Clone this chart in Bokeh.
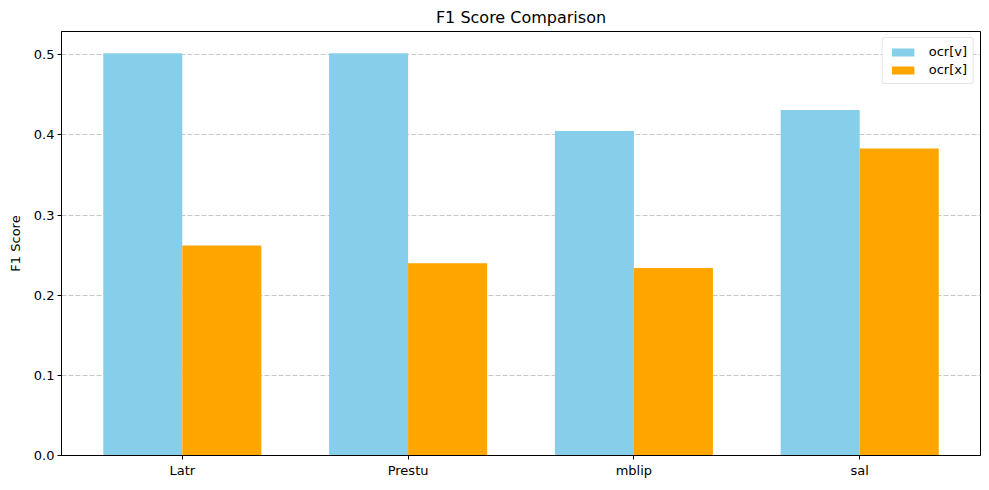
from bokeh.plotting import figure
from bokeh.models import ColumnDataSource, FixedTicker, Range1d, Legend, LegendItem, CustomJSTickFormatter
from bokeh.embed import file_html
from bokeh.resources import INLINE

categories = ["Latr", "Prestu", "mblip", "sal"]
ocr_v = [0.502, 0.502, 0.405, 0.431]
ocr_x = [0.262, 0.240, 0.234, 0.383]
series_names = ["ocr[v]", "ocr[x]"]
yticks = [0.0, 0.1, 0.2, 0.3, 0.4, 0.5]

width = 0.35
idx = list(range(len(categories)))

p = figure(frame_width=919, frame_height=424, output_backend="svg", toolbar_location=None,
           title="F1 Score Comparison",
           x_range=Range1d(-0.535, len(categories) - 1 + 0.535),
           y_range=Range1d(0, 0.529))
p.min_border_left = 61
p.min_border_right = 1
p.min_border_top = 24
p.min_border_bottom = 24

src_v = ColumnDataSource(dict(x=[i - width / 2 for i in idx], top=ocr_v))
src_x = ColumnDataSource(dict(x=[i + width / 2 for i in idx], top=ocr_x))
r1 = p.vbar(x="x", top="top", width=width, source=src_v, fill_color="#87ceeb", line_color=None)
r2 = p.vbar(x="x", top="top", width=width, source=src_x, fill_color="#ffa500", line_color=None)

p.title.align = "center"
p.title.text_font = "DejaVu Sans"
p.title.text_font_size = "16px"
p.title.text_font_style = "normal"
p.title.text_color = "black"
p.title.offset = 0

p.xaxis.ticker = FixedTicker(ticks=idx)
p.xaxis.major_label_overrides = {i: c for i, c in zip(idx, categories)}
p.yaxis.ticker = FixedTicker(ticks=yticks)
p.yaxis.formatter = CustomJSTickFormatter(code="return tick.toFixed(1);")
p.yaxis.axis_label = "F1 Score"

for ax in (p.xaxis, p.yaxis):
    ax.major_label_text_font = "DejaVu Sans"
    ax.major_label_text_font_size = "13px"
    ax.major_label_text_color = "black"
    ax.axis_label_text_font = "DejaVu Sans"
    ax.axis_label_text_font_size = "13px"
    ax.axis_label_text_font_style = "normal"
    ax.axis_label_text_color = "black"
    ax.major_tick_out = 4
    ax.major_tick_in = 0
    ax.minor_tick_line_color = None
    ax.axis_line_color = "black"
    ax.major_tick_line_color = "black"
    ax.axis_label_standoff = 8
    ax.major_label_standoff = 3

p.xgrid.grid_line_color = None
p.ygrid.grid_line_color = "#b0b0b0"
p.ygrid.grid_line_alpha = 0.7
p.ygrid.grid_line_dash = "5 2"
p.outline_line_color = "black"
p.outline_line_alpha = 1

legend = Legend(items=[LegendItem(label=series_names[0], renderers=[r1]),
                       LegendItem(label=series_names[1], renderers=[r2])],
                location="top_right")
legend.label_text_font = "DejaVu Sans"
legend.label_text_font_size = "13px"
legend.label_text_color = "black"
legend.border_line_color = "#cccccc"
legend.border_radius = 3
legend.glyph_width = 28
legend.glyph_height = 10
legend.spacing = 3
legend.padding = 6
legend.margin = 6
legend.label_standoff = 12
p.add_layout(legend)

open("out.html", "w").write(file_html(p, INLINE))
